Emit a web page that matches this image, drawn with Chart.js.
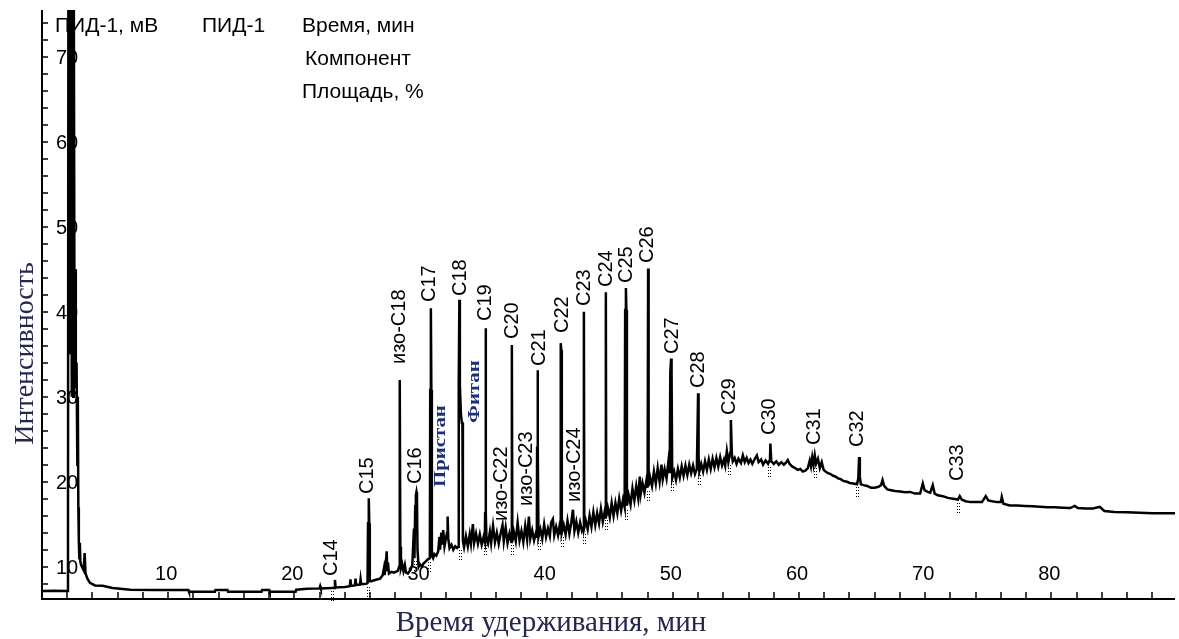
<!DOCTYPE html>
<html>
<head>
<meta charset="utf-8">
<script src="https://cdn.jsdelivr.net/npm/chart.js@4"></script>
<style>
    body { margin: 0; background: #fff; }
    #wrap { width: 1179px; height: 639px; }
</style>
</head>
<body>
<div id="wrap"><canvas id="chromChart" width="1179" height="639"></canvas></div>
<script>
// FID trace, [retention time (min), signal (mV)]
const traceStart = [
    [0, 7.14], [1, 7.16], [2, 7.14], [2.06, 14], [2.1, 95], [2.16, 40], [2.2, 95], [2.26, 35], [2.3, 95],
    [2.36, 30], [2.42, 95], [2.48, 30], [2.52, 80], [2.58, 33], [2.62, 45], [2.68, 31], [2.74, 34],
    [2.8, 22], [2.84, 30], [2.88, 17], [2.92, 13], [2.96, 11], [3.0, 12.8], [3.04, 10.6], [3.1, 10.2],
    [3.3, 9.6], [3.38, 11.6], [3.45, 9.2], [3.6, 8.6], [3.8, 8.1], [4.2, 7.8], [4.8, 7.75], [5.6, 7.5],
    [7, 7.3], [9, 7.26], [11.6, 7.26], [11.65, 7.05], [13.7, 7.05], [13.75, 7.26], [14.7, 7.26],
    [14.75, 7.05], [17.4, 7.05], [17.45, 7.26], [18, 7.26], [18.05, 7.05], [20.1, 7.05], [20.15, 7.3]
];
const traceMid = [
    [21, 7.4], [22, 7.45], [22.05, 7.7], [22.1, 7.45], [23, 7.5], [23.17, 7.5], [23.22, 8.44], [23.27, 7.55],
    [24, 7.6], [24.4, 7.7], [24.45, 8.5], [24.5, 7.75], [24.8, 7.8], [24.85, 8.6], [24.9, 7.85], [25.2, 7.9],
    [25.25, 8.55], [25.3, 7.95], [25.7, 8.0], [25.8, 8.08], [25.84, 15.1], [25.89, 15.1], [25.91, 18.05],
    [25.94, 15.1], [25.98, 8.3], [26.1, 8.3], [26.4, 8.44], [26.8, 8.6], [27, 9.0], [27.1, 9.8], [27.15, 9.0],
    [27.25, 10.4], [27.32, 11.8], [27.36, 9.6], [27.42, 10.5], [27.5, 9.2], [27.7, 9.4], [27.9, 9.3],
    [28.2, 9.5], [28.3, 10.0], [28.34, 12.35], [28.37, 31.97], [28.4, 12.35], [28.45, 9.8], [28.55, 10.3],
    [28.65, 9.5], [28.76, 10.2], [28.85, 9.3], [29, 9.2], [29.2, 9.6], [29.35, 10.2], [29.48, 14.5],
    [29.52, 11.0], [29.58, 17.1], [29.63, 18.4], [29.68, 18.8], [29.72, 18.4], [29.76, 12.0], [29.85, 10.0],
    [29.95, 10.3], [30.1, 10.0], [30.25, 10.4], [30.4, 10.6], [30.6, 10.9], [30.74, 11.0], [30.77, 30.8],
    [30.82, 40.4], [30.86, 30.8], [30.9, 11.3], [31, 11.0], [31.1, 11.5], [31.25, 11.3], [31.4, 11.8],
    [31.5, 13.5], [31.55, 12.0], [31.65, 14.0], [31.7, 12.6], [31.8, 14.3], [31.9, 12.4], [32, 13.2],
    [32.1, 14.0], [32.15, 15.9], [32.2, 13.3], [32.3, 12.2], [32.45, 12.6], [32.6, 12.0], [32.75, 12.4],
    [32.9, 12.2], [33, 12.35], [33.03, 31.4], [33.08, 41.4], [33.12, 31.4], [33.2, 28.0], [33.28, 26.9],
    [33.32, 26.9], [33.36, 13.0], [33.45, 12.3], [33.6, 13.6], [33.75, 12.4], [33.9, 13.8], [34, 12.7],
    [34.15, 15.0], [34.25, 12.8], [34.4, 13.9], [34.55, 12.7], [34.7, 13.8], [34.85, 12.6], [35, 13.5],
    [35.1, 12.9], [35.12, 16.3], [35.16, 38.05], [35.19, 16.3], [35.23, 13.2], [35.35, 12.7], [35.5, 14.1],
    [35.6, 12.8], [35.75, 14.8], [35.9, 12.9], [36.05, 14.0], [36.2, 12.7], [36.35, 13.9], [36.5, 14.9],
    [36.6, 13.0], [36.75, 14.6], [36.9, 12.8], [37.05, 13.9], [37.2, 12.9], [37.24, 36.08], [37.28, 13.0],
    [37.4, 14.1], [37.55, 13.0], [37.7, 15.2], [37.85, 13.1], [38, 14.2], [38.15, 12.9], [38.3, 14.8],
    [38.45, 13.2], [38.59, 15.9], [38.7, 13.3], [38.85, 14.3], [39, 13.1], [39.15, 14.0], [39.22, 13.4],
    [39.24, 24.0], [39.28, 33.1], [39.31, 24.0], [39.35, 13.5], [39.5, 14.4], [39.65, 13.3], [39.8, 15.0],
    [39.95, 13.5], [40.1, 14.5], [40.25, 13.6], [40.35, 15.2], [40.49, 15.6], [40.6, 13.7], [40.75, 14.7],
    [40.9, 13.7], [41, 14.6], [41.08, 13.9], [41.1, 35.5], [41.13, 36.3], [41.16, 35.5], [41.2, 14.0],
    [41.35, 14.9], [41.5, 13.8], [41.65, 15.4], [41.8, 13.9], [41.95, 15.2], [42.08, 16.7], [42.2, 14.2],
    [42.35, 15.3], [42.5, 14.0], [42.65, 15.2], [42.8, 14.2], [42.92, 14.6], [42.95, 40.0], [42.98, 14.6],
    [43.1, 15.4], [43.25, 14.4], [43.4, 16.0], [43.55, 14.7], [43.7, 16.4], [43.85, 14.9], [44, 16.3],
    [44.15, 15.1], [44.3, 16.8], [44.45, 15.3], [44.6, 16.5], [44.66, 15.8], [44.69, 42.3], [44.72, 15.9],
    [44.85, 16.9], [45, 15.8], [45.15, 17.5], [45.3, 16.0], [45.45, 17.5], [45.6, 16.3], [45.75, 18.0],
    [45.9, 16.6], [46.05, 17.9], [46.18, 17.0], [46.22, 40.2], [46.28, 42.8], [46.32, 40.2], [46.36, 17.2],
    [46.5, 18.4], [46.65, 17.3], [46.8, 19.2], [46.95, 17.8], [47.1, 19.5], [47.25, 18.1], [47.38, 20.6],
    [47.45, 18.5], [47.6, 19.8], [47.75, 18.7], [47.9, 20.1], [48, 19.3], [48.04, 45.1], [48.08, 19.5],
    [48.2, 20.5], [48.35, 19.5], [48.5, 21.2], [48.65, 19.8], [48.8, 21.6], [48.95, 20.0], [49.1, 22.0],
    [49.2, 20.3], [49.35, 21.5], [49.5, 20.4], [49.65, 22.4], [49.75, 21.0], [49.8, 32.9], [49.86, 34.5],
    [49.9, 32.9], [49.95, 20.4]
];
const traceHump = [
    [50.1, 21.2], [50.25, 20.2], [50.4, 21.5], [50.55, 20.5], [50.7, 21.8], [50.85, 20.7], [51, 21.9],
    [51.15, 20.8], [51.3, 22.0], [51.45, 21.0], [51.6, 21.9], [51.75, 20.9], [51.9, 21.5], [51.96, 26.5],
    [52, 30.4], [52.04, 23.0], [52.1, 21.2], [52.25, 22.1], [52.4, 21.2], [52.55, 22.4], [52.7, 21.4],
    [52.85, 22.6], [53, 21.5], [53.15, 22.7], [53.3, 21.7], [53.45, 22.8], [53.6, 21.8], [53.75, 22.9],
    [53.9, 21.9], [54.05, 22.6], [54.15, 21.9], [54.28, 23.6], [54.4, 22.3], [54.55, 23.4], [54.6, 27.26],
    [54.68, 23.2], [54.75, 22.4], [54.9, 22.8], [55.05, 22.1], [55.2, 22.7], [55.4, 22.2], [55.55, 23.1],
    [55.7, 22.3], [55.85, 22.8], [56, 22.2], [56.15, 22.6], [56.3, 22.1], [56.5, 22.7], [56.66, 23.1],
    [56.8, 22.3], [57, 22.6], [57.15, 22.0], [57.35, 22.5], [57.55, 22.1], [57.7, 22.6], [57.73, 24.5],
    [57.8, 22.4], [58, 22.1], [58.2, 22.4], [58.4, 22.0], [58.6, 22.3], [58.8, 22.0], [59, 22.3],
    [59.11, 22.55], [59.25, 22.1], [59.45, 21.8], [59.7, 21.6], [59.9, 21.4], [60.1, 21.5], [60.3, 21.2],
    [60.5, 21.3], [60.7, 21.6], [60.85, 22.5], [60.95, 21.8], [61.05, 22.9], [61.15, 22.0], [61.25, 23.1],
    [61.35, 22.1], [61.5, 22.7], [61.65, 21.6], [61.8, 22.3], [61.95, 21.4], [62.1, 21.2], [62.3, 21.0],
    [62.5, 20.9], [62.7, 20.7], [62.9, 20.6], [63.1, 20.4], [63.3, 20.3], [63.5, 20.1], [63.8, 20.0],
    [64, 19.85], [64.3, 19.8], [64.6, 19.7], [64.7, 20.4], [64.76, 22.9], [64.82, 20.6], [64.9, 19.7],
    [65.1, 19.6], [65.4, 19.5], [65.7, 19.3], [66, 19.3], [66.3, 19.4], [66.5, 19.6], [66.62, 20.2],
    [66.75, 19.5], [67, 19.1], [67.3, 19.0], [67.6, 18.9], [68, 18.85], [68.4, 18.75], [68.8, 18.8],
    [69.2, 18.6], [69.6, 18.6], [69.81, 19.8], [69.95, 19.0], [70.2, 18.8], [70.4, 18.7], [70.6, 19.6],
    [70.75, 18.6], [71, 18.4], [71.4, 18.3], [71.8, 18.1], [72.2, 18.0], [72.6, 17.9], [72.74, 18.3],
    [72.9, 17.9], [73.2, 17.7], [73.6, 17.6], [74, 17.6], [74.5, 17.6], [74.8, 18.3], [75, 17.8],
    [75.3, 17.7], [75.7, 17.6], [76, 17.6], [76.07, 18.2], [76.2, 17.4], [76.7, 17.2], [77.3, 17.2],
    [77.9, 17.15], [78.5, 17.1], [79.1, 17.05], [79.7, 17.0], [80.3, 17.0], [80.9, 16.95], [81.5, 16.9],
    [81.85, 17.15], [82.1, 16.9], [82.7, 16.85], [83.3, 16.85], [83.84, 17.05], [84.2, 16.55], [85, 16.45],
    [86, 16.4], [87, 16.35], [88, 16.3], [89, 16.3], [89.8, 16.28]
];

// peak labels: name, time (min) and signal level where the text starts
const peakNames = ['C14', 'C15', 'изо-C18', 'C16', 'C17', 'C18', 'C19', 'изо-C22', 'C20', 'изо-C23',
    'C21', 'C22', 'изо-C24', 'C23', 'C24', 'C25', 'C26', 'C27', 'C28', 'C29', 'C30', 'C31', 'C32', 'C33'];
const peakTimes = [22.98, 25.83, 28.33, 29.6, 30.71, 33.16, 35.14, 36.41, 37.28, 38.39,
    39.42, 41.24, 42.19, 42.99, 44.73, 46.32, 48.02, 49.96, 52.06, 54.48, 57.65, 61.25, 64.62, 72.58];
const peakLabelLevels = [8.67, 18.32, 33.61, 19.49, 40.91, 41.61, 38.67, 15.14, 36.55, 16.91,
    33.38, 37.26, 17.38, 40.44, 42.67, 43.14, 45.49, 34.79, 30.79, 27.61, 25.26, 24.08, 23.85, 19.85];

const isoprenoidNames = ['Пристан', 'Фитан'];
const isoprenoidTimes = [31.62, 34.27];
const isoprenoidLevels = [19.38, 26.91];

const xTickLabels = [10, 20, 30, 40, 50, 60, 70, 80];
const yTickLabels = [10, 20, 30, 40, 50, 60, 70];

const headerLines = [
    ['ПИД-1, мВ', 'ПИД-1', 'Время, мин'],
    ['', '', 'Компонент'],
    ['', '', 'Площадь, %']
];

const trace = traceStart.concat(traceMid, traceHump).map(p => ({x: p[0], y: p[1]}));

const SANS = '"Liberation Sans", Arial, sans-serif';
const SERIF = '"Liberation Serif", "Times New Roman", serif';
const TITLE_COLOR = '#26264f';

// axes, ticks, header and titles are drawn by hand (old GC-software look)
const chromDecor = {
    id: 'chromDecor',
    beforeDatasetsDraw(chart) {
        const {ctx, chartArea: a, scales: {x, y}} = chart;
        ctx.save();
        ctx.fillStyle = '#000';
        ctx.strokeStyle = '#000';

        // header
        ctx.font = '21px ' + SANS;
        ctx.textAlign = 'left';
        ctx.textBaseline = 'alphabetic';
        const colX = [a.left + 13, a.left + 160, a.left + 260];
        headerLines.forEach((row, i) => {
            row.forEach((txt, j) => {
                if (txt) ctx.fillText(txt, colX[j] + (i === 1 ? 3 : 0), 32 + i * 33);
            });
        });

        // axis lines
        ctx.lineWidth = 2;
        ctx.beginPath();
        ctx.moveTo(a.left, a.top);
        ctx.lineTo(a.left, a.bottom);
        ctx.lineTo(a.right, a.bottom);
        ctx.stroke();

        // tick marks every 2 units, pointing inside
        ctx.lineWidth = 1.5;
        ctx.beginPath();
        for (let t = 2; t < x.max; t += 2) {
            const px = Math.round(x.getPixelForValue(t));
            ctx.moveTo(px, a.bottom);
            ctx.lineTo(px, a.bottom - 7);
        }
        for (let v = 8; v < y.max; v += 2) {
            const py = Math.round(y.getPixelForValue(v));
            ctx.moveTo(a.left, py);
            ctx.lineTo(a.left + 6, py);
        }
        ctx.stroke();

        // tick labels, inside the plot
        ctx.font = '20px ' + SANS;
        ctx.textAlign = 'center';
        xTickLabels.forEach(t => ctx.fillText(String(t), x.getPixelForValue(t) - 2, a.bottom - 19));
        ctx.textAlign = 'left';
        yTickLabels.forEach(v => ctx.fillText(String(v), a.left + 14, y.getPixelForValue(v) + 7));

        // axis titles
        ctx.fillStyle = TITLE_COLOR;
        ctx.font = '29px ' + SERIF;
        ctx.textAlign = 'center';
        ctx.fillText('Время удерживания, мин', 551, 631);
        ctx.font = '28px ' + SERIF;
        ctx.translate(33, (a.top + a.bottom) / 2 + 49);
        ctx.rotate(-Math.PI / 2);
        ctx.fillText('Интенсивность', 0, 0);
        ctx.restore();
    },
    afterDatasetsDraw(chart) {
        const {ctx, scales: {x, y}} = chart;
        const data = chart.data.datasets[0].data;
        ctx.save();
        ctx.fillStyle = '#000';

        // rotated peak names
        ctx.font = '20px ' + SANS;
        ctx.textAlign = 'left';
        ctx.textBaseline = 'middle';
        peakNames.forEach((name, i) => {
            ctx.save();
            ctx.translate(x.getPixelForValue(peakTimes[i]), y.getPixelForValue(peakLabelLevels[i]) - 2);
            ctx.rotate(-Math.PI / 2);
            ctx.fillText(name, 0, 0);
            ctx.restore();
        });

        // pristane / phytane in serif, stretched along the text
        ctx.fillStyle = '#1f2f75';
        ctx.font = 'bold 16px ' + SERIF;
        isoprenoidNames.forEach((name, i) => {
            ctx.save();
            ctx.translate(x.getPixelForValue(isoprenoidTimes[i]), y.getPixelForValue(isoprenoidLevels[i]));
            ctx.rotate(-Math.PI / 2);
            ctx.scale(1.3, 1);
            ctx.fillText(name, 0, 0);
            ctx.restore();
        });

        // dotted integration marks under the n-alkane peaks
        ctx.strokeStyle = '#000';
        ctx.lineWidth = 1;
        ctx.setLineDash([1, 2]);
        ctx.beginPath();
        peakNames.forEach((name, i) => {
            if (name[0] !== 'C') return;
            const t = peakTimes[i];
            let low = Infinity;
            data.forEach(p => { if (Math.abs(p.x - t) < 0.2 && p.y < low) low = p.y; });
            const px = Math.round(x.getPixelForValue(t)) + 0.5;
            const py = Math.round(y.getPixelForValue(low)) + 3;
            ctx.moveTo(px - 1, py);
            ctx.lineTo(px - 1, py + 12);
            ctx.moveTo(px + 1, py);
            ctx.lineTo(px + 1, py + 12);
        });
        ctx.stroke();
        ctx.restore();
    }
};

const ctx1 = document.getElementById('chromChart').getContext('2d');
new Chart(ctx1, {
    type: 'line',
    data: {
        datasets: [{
            label: 'ПИД-1',
            data: trace,
            borderColor: '#000',
            borderWidth: 2.5,
            pointRadius: 0,
            tension: 0,
            fill: false
        }]
    },
    options: {
        responsive: false,
        animation: false,
        layout: {
            padding: { left: 42, right: 4, top: 10, bottom: 40 }
        },
        scales: {
            x: {
                type: 'linear',
                min: 0,
                max: 89.8,
                grid: { display: false, drawTicks: false },
                border: { display: false },
                ticks: { display: false }
            },
            y: {
                type: 'linear',
                min: 6.2,
                max: 75.5,
                grid: { display: false, drawTicks: false },
                border: { display: false },
                ticks: { display: false }
            }
        },
        plugins: {
            legend: { display: false },
            tooltip: { enabled: false }
        }
    },
    plugins: [chromDecor]
});
</script>
</body>
</html>
